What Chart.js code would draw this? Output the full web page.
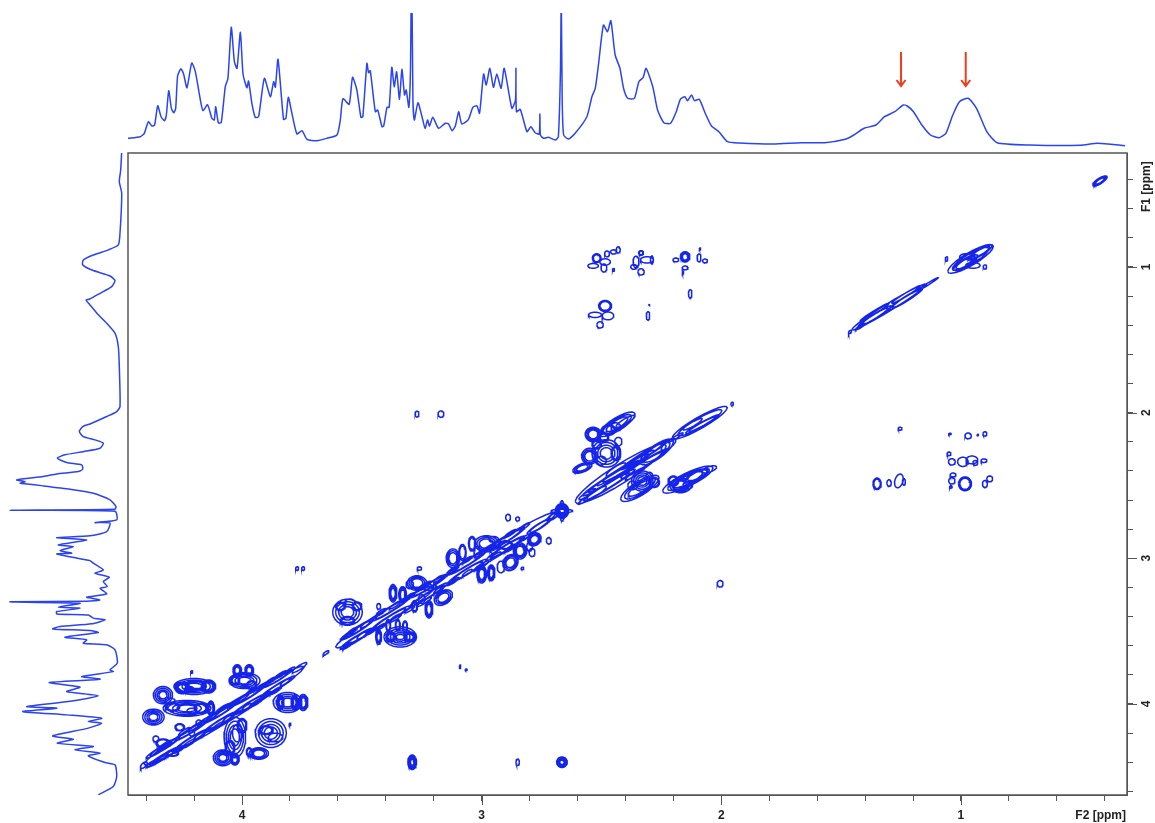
<!DOCTYPE html>
<html>
<head>
<meta charset="utf-8">
<title>COSY spectrum</title>
<script src="https://cdn.jsdelivr.net/npm/chart.js@4"></script>
<style>
  html, body { margin: 0; padding: 0; background: #fff; overflow: hidden; }
  canvas { position: absolute; display: block; }
  #mainChart { left: 0; top: 0; }
  #topChart { left: 128px; top: 13px; }
  #leftChart { left: 0; top: 153px; }
</style>
</head>
<body>
<canvas id="mainChart" width="1155" height="823"></canvas>
<canvas id="topChart" width="999" height="135"></canvas>
<canvas id="leftChart" width="128" height="642"></canvas>
<script>
// 1D projection along the top (F2 ppm, intensity)
const topF2 = [4.477,4.425,4.408,4.391,4.376,4.365,4.352,4.338,4.324,4.316,4.306,4.295,4.285,4.277,4.269,4.255,4.244,4.230,4.210,4.195,4.174,4.163,4.144,4.126,4.116,4.110,4.099,4.087,4.070,4.059,4.045,4.032,4.021,4.007,3.996,3.980,3.973,3.959,3.945,3.931,3.907,3.882,3.868,3.861,3.850,3.827,3.817,3.807,3.792,3.771,3.750,3.729,3.688,3.646,3.604,3.590,3.579,3.553,3.539,3.521,3.504,3.496,3.479,3.472,3.465,3.444,3.434,3.416,3.409,3.395,3.386,3.375,3.365,3.355,3.343,3.333,3.322,3.315,3.304,3.297,3.294,3.291,3.287,3.281,3.266,3.249,3.236,3.226,3.218,3.204,3.180,3.152,3.138,3.124,3.110,3.096,3.083,3.055,3.037,3.020,3.009,2.992,2.981,2.966,2.951,2.937,2.919,2.906,2.874,2.859,2.857,2.855,2.839,2.811,2.795,2.777,2.760,2.757,2.755,2.742,2.721,2.693,2.680,2.671,2.668,2.664,2.658,2.638,2.610,2.561,2.540,2.526,2.512,2.492,2.475,2.461,2.443,2.423,2.408,2.391,2.363,2.344,2.326,2.314,2.286,2.266,2.240,2.212,2.188,2.171,2.152,2.141,2.124,2.112,2.092,2.067,2.041,2.010,1.974,1.924,1.782,1.668,1.568,1.483,1.447,1.404,1.355,1.319,1.276,1.241,1.224,1.198,1.163,1.127,1.091,1.063,1.034,1.006,0.970,0.935,0.892,0.849,0.714,0.500,0.429,0.315];
const topIntensity = [4.7,6.3,9.7,21.3,17,18,37.3,26.3,22.3,28,52.3,34.7,30.3,34.7,67,74.3,69,55.3,80,71.3,43,32.3,38.3,24.7,23,36.3,20.3,20.3,56.3,64.7,115.7,81.3,74.7,110.7,69,55.3,62,39.7,25.7,26.3,64.7,46.3,61.3,55.7,83.7,23.7,24.7,45.7,29.7,9,12.3,3.7,2.3,4.7,8,23,44.3,38.7,65.7,53,25.7,26.3,79.7,70.3,72.3,31.3,33,16.3,17,35.7,35.7,75.7,56.3,71.3,43.7,73.7,48,53,35.7,74.7,150,150,43,23,40.3,26.3,14.7,23,17,25.7,14.7,19.7,19,12.3,17,31.3,19,23.7,35.7,37.3,29.7,69,58,74.7,55.7,69,54.7,74.7,34.7,43,74.7,31.3,33.7,11.3,16.3,10.3,9,29,8,4.7,5.7,3,6.3,76,150,43,8,4,9.7,26.3,46.3,54.7,79.7,118,111.3,122.3,88,74.7,54.7,44.7,44.7,61.3,65.7,74.7,56.3,33,20.3,19.7,31.3,43.7,46.3,42.3,48,42.3,43.7,29.7,17,11.3,1.3,0,-1,0.3,0.3,3.7,8,14.7,18,26.3,31.3,38,37,31.3,18,8,5.3,9.7,28,41.3,44.7,34.7,11.3,0.3,-2,-2.3,-0.3,-2.7];

// 1D projection down the left side (F1 ppm, intensity)
const leftF1 = [0.208,0.334,0.414,0.494,0.769,0.849,0.883,0.918,0.952,0.986,1.025,1.062,1.094,1.135,1.181,1.222,1.227,1.261,1.329,1.387,1.455,1.547,1.684,1.959,1.993,2.027,2.078,2.096,2.130,2.165,2.187,2.210,2.245,2.268,2.290,2.313,2.343,2.359,2.389,2.405,2.421,2.439,2.462,2.474,2.485,2.489,2.503,2.526,2.554,2.599,2.645,2.663,2.670,2.677,2.737,2.755,2.759,2.817,2.846,2.858,2.874,2.908,2.920,2.947,2.965,2.970,2.990,3.016,3.034,3.080,3.103,3.130,3.160,3.194,3.206,3.244,3.267,3.286,3.295,3.299,3.309,3.336,3.343,3.366,3.382,3.389,3.411,3.423,3.450,3.469,3.485,3.496,3.510,3.542,3.560,3.583,3.594,3.629,3.720,3.766,3.778,3.812,3.830,3.853,3.885,3.915,3.944,3.983,4.018,4.029,4.052,4.075,4.098,4.121,4.132,4.166,4.219,4.242,4.269,4.292,4.315,4.338,4.356,4.402,4.418,4.498,4.567,4.624];
const leftIntensity = [-1.7,-0.7,0.7,-1.7,0,1.7,11.7,26.7,36.7,37.3,26.7,10,5,8.3,20,30.7,34,30,21.7,13.3,5,1.7,0.7,0,3.3,13.3,30,37.3,40.7,36.7,25,16.7,20,36.7,55,62.7,53.3,38.3,37.3,41.7,63.3,76.7,103.3,95,100,95,76.7,50,26.7,10,4,5,110,5,3.3,25,10,13.3,30,63.3,33.3,61.7,46.7,60,48.3,63.3,50,30,26.7,16.7,25,10.7,16.7,12.7,20,13.3,33.3,20,33,110,40,61.7,40,63.3,63.3,31.7,26.7,15,28.3,60,67.3,30,21.7,55,33.3,36.7,13.3,5,2.7,10,6.7,38.3,20,70.7,40,53.3,21.7,51.7,93.3,63.3,97.3,53.3,18.3,31.7,18.3,31.7,67.3,46.7,62.7,26.7,45,20,31.7,15,5,3.3,6.7,21.7];

// tick positions and where the red arrows point
const f2Ticks = [4.4,4.2,4,3.8,3.6,3.4,3.2,3,2.8,2.6,2.4,2.2,2,1.8,1.6,1.4,1.2,1,0.8,0.6,0.4];
const f1Ticks = [0.4,0.6,0.8,1,1.2,1.4,1.6,1.8,2,2.2,2.4,2.6,2.8,3,3.2,3.4,3.6,3.8,4,4.2,4.4,4.6];
const arrowF2 = [1.25, 0.98];

// contours: [F2 centre, F1 centre, half width F2, half width F1, skew, number of levels]
const diagonalLow = [
  [4.075,4.08,.335,.06,1,1],[4.41,4.42,.014,.018,1,1],
  [4.33,4.365,.07,.018,1,2],[4.33,4.30,.07,.018,1,2],[4.21,4.245,.07,.02,1,2],[4.21,4.18,.07,.018,1,2],
  [4.09,4.125,.07,.02,1,2],[4.09,4.06,.07,.018,1,2],[3.97,4.005,.07,.02,1,2],[3.97,3.94,.07,.018,1,2],
  [3.85,3.88,.07,.018,1,2],[3.85,3.825,.06,.016,1,2],[3.76,3.75,.03,.016,1,1],
  [4.38,4.41,.02,.012,1,1],[4.34,4.38,.025,.012,1,1],[4.30,4.34,.02,.014,1,1],[4.26,4.31,.025,.012,1,1],[4.22,4.27,.03,.014,1,1],[4.18,4.22,.022,.012,1,1],[4.14,4.19,.025,.014,1,1],[4.10,4.15,.03,.012,1,1],[4.06,4.10,.02,.012,1,1],[4.02,4.07,.028,.014,1,1],[3.98,4.02,.02,.012,1,1],[3.94,3.99,.03,.013,1,1],[3.90,3.94,.022,.012,1,1],[3.86,3.91,.025,.012,1,1],[3.82,3.85,.02,.012,1,1],
  [4.36,4.33,.02,.012,1,1],[4.32,4.28,.028,.014,1,1],[4.28,4.25,.02,.012,1,1],[4.24,4.19,.025,.014,1,1],[4.20,4.16,.03,.012,1,1],[4.16,4.12,.02,.014,1,1],[4.12,4.08,.025,.012,1,1],[4.08,4.03,.03,.014,1,1],[4.04,4.00,.02,.012,1,1],[4.00,3.96,.028,.013,1,1],[3.96,3.91,.02,.012,1,1],[3.92,3.88,.03,.012,1,1],[3.88,3.84,.022,.012,1,1],[3.84,3.80,.025,.012,1,1],[3.80,3.77,.02,.012,1,1]
];
const crossLow = [
  [4.20,3.88,.085,.055,0,4],[4.14,3.88,.03,.045,0,3],[4.25,3.89,.03,.04,0,3],[4.19,3.87,.04,.03,0,2],[4.22,3.90,.02,.02,0,1],
  [4.33,3.94,.04,.06,0,4],[4.30,3.98,.02,.02,0,1],[4.23,4.03,.10,.055,0,4],[4.29,4.02,.03,.03,0,2],[4.17,4.03,.03,.035,0,2],[4.13,4.03,.015,.05,0,3],[4.21,4.05,.02,.02,0,1],
  [4.37,4.09,.045,.055,0,4],[4.02,3.77,.018,.04,0,3],[3.97,3.77,.018,.04,0,3],[3.99,3.84,.065,.055,0,4],[3.96,3.87,.02,.03,0,2],[4.03,3.84,.02,.03,0,2],
  [3.81,3.99,.06,.07,0,4],[3.84,3.99,.015,.05,0,3],[3.78,3.99,.015,.05,0,3],[3.745,3.99,.02,.055,0,3],
  [3.88,4.20,.065,.10,0,4],[3.90,4.18,.03,.03,0,2],[3.86,4.23,.03,.03,0,1],[4.03,4.23,.045,.14,0,4],[4.05,4.30,.02,.05,0,2],[4.00,4.15,.02,.05,0,2],[4.02,4.20,.02,.06,0,1],
  [4.08,4.37,.04,.055,0,4],[4.03,4.38,.018,.04,0,3],[3.93,4.34,.04,.04,0,3],[3.97,4.33,.012,.03,0,2],
  [4.33,4.27,.03,.03,0,2],[4.26,4.16,.02,.025,0,2],[4.29,4.34,.025,.02,0,2],[4.18,4.13,.012,.02,0,1],[4.36,4.24,.012,.02,0,1],[4.21,4.20,.012,.02,0,1],
  [4.21,3.78,.004,.008,0,1],[3.80,4.14,.004,.008,0,1]
];
const diagonalMid = [
  [3.65,3.65,.012,.01,1,1],[3.40,3.40,.21,.05,1,1],[2.95,2.95,.26,.055,1,1],
  [3.52,3.55,.07,.02,1,2],[3.52,3.49,.07,.02,1,2],[3.38,3.41,.08,.02,1,2],[3.38,3.35,.08,.02,1,2],
  [3.22,3.25,.08,.02,1,2],[3.22,3.19,.08,.02,1,2],[3.06,3.09,.08,.022,1,2],[3.06,3.03,.08,.022,1,2],
  [2.90,2.93,.08,.022,1,2],[2.90,2.87,.08,.022,1,2],[2.76,2.78,.05,.02,1,2],[2.70,2.71,.028,.02,1,2],
  [3.56,3.60,.02,.012,1,1],[3.50,3.53,.02,.014,1,1],[3.46,3.50,.025,.012,1,1],[3.42,3.47,.02,.012,1,1],[3.36,3.41,.025,.014,1,1],[3.30,3.35,.02,.012,1,1],[3.24,3.30,.03,.012,1,1],[3.18,3.22,.02,.014,1,1],[3.12,3.16,.025,.012,1,1],[3.06,3.10,.02,.012,1,1],[3.00,3.05,.03,.014,1,1],[2.94,2.98,.02,.012,1,1],[2.88,2.93,.025,.014,1,1],[2.82,2.86,.02,.012,1,1],
  [3.54,3.50,.02,.014,1,1],[3.48,3.45,.025,.012,1,1],[3.42,3.37,.02,.014,1,1],[3.36,3.32,.025,.012,1,1],[3.30,3.26,.02,.012,1,1],[3.24,3.19,.03,.014,1,1],[3.18,3.14,.02,.012,1,1],[3.12,3.08,.025,.014,1,1],[3.06,3.01,.02,.012,1,1],[3.00,2.96,.03,.012,1,1],[2.94,2.90,.02,.014,1,1],[2.88,2.83,.025,.012,1,1],[2.82,2.78,.02,.012,1,1],
  [2.665,2.675,.028,.05,0,4],[2.665,2.675,.045,.012,0,1],[2.665,2.675,.01,.07,0,1]
];
const crossMid = [
  [3.56,3.37,.062,.09,0,4],[3.59,3.33,.02,.03,0,2],[3.52,3.33,.02,.03,0,2],[3.56,3.43,.03,.03,0,2],[3.55,3.30,.02,.02,0,1],
  [3.34,3.54,.068,.07,0,5],[3.30,3.54,.025,.035,0,3],[3.38,3.54,.02,.035,0,3],[3.43,3.54,.012,.05,0,3],
  [3.39,3.46,.01,.04,0,2],[3.35,3.46,.01,.04,0,2],[3.32,3.47,.01,.04,0,2],
  [3.37,3.24,.016,.06,0,3],[3.33,3.25,.016,.055,0,3],[3.27,3.17,.04,.05,0,3],[3.22,3.20,.02,.02,0,1],[3.30,3.18,.015,.03,0,1],
  [3.22,3.35,.016,.06,0,3],[3.28,3.33,.012,.04,0,2],[3.25,3.28,.014,.03,0,1],[3.16,3.27,.038,.05,.5,3],
  [3.12,3.00,.028,.065,0,3],[3.08,2.96,.015,.055,0,2],[3.04,2.90,.015,.05,0,2],[2.98,2.90,.05,.055,0,3],[2.95,2.87,.02,.02,0,1],[2.90,2.91,.03,.03,0,2],[3.02,2.96,.012,.04,0,1],[2.95,2.94,.015,.03,0,1],
  [3.00,3.11,.02,.06,0,3],[2.96,3.10,.015,.055,0,3],[2.88,3.03,.032,.055,.3,3],[2.84,2.95,.028,.055,0,3],[2.78,2.87,.028,.045,.3,3],[2.80,2.92,.012,.03,0,1],[2.92,3.06,.015,.04,0,1],
  [2.89,2.72,.01,.022,0,1],[2.85,2.73,.008,.014,0,1],[2.72,2.88,.01,.022,0,1],[2.79,2.96,.012,.028,0,1],[2.83,3.07,.006,.008,0,1],[3.26,3.07,.009,.012,0,1],[3.43,3.33,.008,.02,0,1]
];
const diagonalHigh = [
  [2.42,2.42,.19,.075,1,1],[2.48,2.51,.12,.022,1,2],[2.46,2.45,.12,.025,1,2],[2.40,2.38,.12,.022,1,2],[2.32,2.35,.1,.025,1,2],[2.32,2.29,.1,.022,1,2],
  [2.52,2.55,.04,.02,1,1],[2.56,2.56,.035,.015,1,1],[2.36,2.42,.04,.015,1,1],[2.44,2.39,.04,.02,1,1],
  [2.27,2.27,.07,.055,1,2],[2.22,2.22,.03,.03,1,1],[2.09,2.07,.115,.045,.9,2],[2.08,2.08,.07,.016,.9,2],[2.12,2.08,.04,.016,.9,1],[2.19,2.17,.03,.01,1,1],[1.955,1.94,.005,.012,0,1]
];
const crossHigh = [
  [2.435,2.08,.075,.05,.9,3],[2.40,2.06,.04,.02,.9,1],[2.47,2.12,.03,.035,0,2],[2.44,2.10,.02,.03,0,1],[2.535,2.15,.033,.05,0,3],[2.49,2.17,.02,.03,0,2],
  [2.48,2.28,.06,.095,0,4],[2.52,2.22,.02,.03,0,2],[2.44,2.28,.02,.05,0,2],[2.50,2.33,.02,.03,0,1],[2.43,2.20,.015,.03,0,1],[2.55,2.30,.033,.055,0,3],[2.58,2.38,.04,.03,.5,3],
  [2.34,2.52,.08,.055,.9,3],[2.33,2.47,.045,.07,0,4],[2.28,2.48,.022,.035,0,2],[2.37,2.50,.02,.03,0,1],[2.30,2.44,.015,.03,0,1],
  [2.14,2.46,.105,.05,.75,3],[2.17,2.50,.045,.05,0,3],[2.10,2.43,.05,.03,.7,2],[2.20,2.47,.022,.035,0,2],[2.05,2.39,.03,.02,.5,1],[2.14,2.50,.02,.025,0,1]
];
const crossUpper = [
  [2.52,.94,.018,.03,0,2],[2.485,.966,.022,.022,0,1],[2.49,1.007,.012,.028,0,1],[2.477,.91,.01,.02,0,1],[2.45,.897,.012,.015,0,1],[2.43,.883,.008,.022,0,1],[2.535,.993,.022,.016,0,1],[2.45,1.02,.004,.01,0,1],
  [2.356,.966,.012,.04,0,1],[2.31,.952,.027,.022,0,1],[2.335,.904,.01,.016,0,2],[2.365,1.0,.013,.016,0,1],[2.335,1.034,.013,.022,0,1],[2.29,.952,.006,.027,0,1],
  [2.151,.931,.02,.035,0,3],[2.19,.952,.012,.013,0,1],[2.151,1.007,.012,.013,0,1],[2.093,.938,.008,.027,0,1],[2.068,.959,.01,.013,0,1],[2.089,.876,.003,.006,0,1],[2.16,1.04,.003,.008,0,1],[2.13,1.185,.007,.029,0,1],
  [2.485,1.268,.027,.038,0,2],[2.527,1.329,.027,.018,0,1],[2.473,1.336,.024,.027,0,1],[2.506,1.398,.013,.022,0,1],[2.306,1.336,.007,.029,0,1],[2.30,1.26,.002,.005,0,1]
];
const diagonalMethyl = [
  [1.30,1.275,.155,.03,1,1],[1.36,1.34,.07,.02,1,2],[1.36,1.31,.06,.012,1,1],[1.23,1.22,.07,.02,1,2],[1.23,1.19,.06,.012,1,1],[1.42,1.41,.02,.01,1,1],[1.463,1.446,.006,.01,1,1],[1.14,1.12,.045,.008,1,1],
  [.96,.945,.095,.05,.9,2],[.98,.97,.05,.03,.9,2],[.92,.90,.05,.025,.9,2],[.98,.93,.025,.02,0,1],[.95,.99,.03,.02,0,1],[.93,.94,.03,.012,.9,1],[1.06,.945,.005,.014,0,1],[.90,1.0,.007,.014,0,1]
];
const crossMethyl = [
  [1.254,2.11,.008,.01,0,1],[1.046,2.146,.005,.004,0,1],[.97,2.16,.013,.02,0,1],[.93,2.153,.003,.004,0,1],[.90,2.146,.008,.015,0,1],
  [1.05,2.283,.008,.012,0,1],[1.038,2.338,.014,.022,0,1],[.992,2.338,.022,.032,0,1],[.954,2.325,.024,.027,0,1],[.94,2.345,.01,.016,0,1],[.904,2.33,.012,.012,0,1],
  [1.35,2.489,.017,.04,0,2],[1.30,2.483,.009,.022,0,1],[1.259,2.469,.018,.045,.8,1],[1.238,2.476,.006,.022,0,1],
  [1.033,2.428,.012,.013,0,1],[1.038,2.469,.013,.022,0,1],[1.042,2.51,.005,.008,0,1],[.983,2.489,.027,.048,0,2],[.90,2.49,.01,.024,0,1],[.88,2.455,.012,.02,0,1]
];
const isolated = [
  [.42,.41,.03,.022,.9,3],[3.27,2.01,.008,.02,0,1],[3.17,2.01,.012,.022,0,1],[3.77,3.07,.006,.012,0,1],[3.745,3.07,.006,.012,0,1],
  [3.09,3.745,.003,.012,0,1],[3.065,3.765,.004,.005,0,1],[2.005,3.175,.012,.022,0,1],[3.29,4.40,.018,.05,0,4],[2.85,4.40,.007,.022,0,1],[2.665,4.40,.022,.037,0,4]
];
const contourGroups = [diagonalLow, crossLow, diagonalMid, crossMid, diagonalHigh, crossHigh, crossUpper, diagonalMethyl, crossMethyl, isolated];

const BLUE = '#1424ea';
const TRACE_BLUE = '#2a44f4';
const FRAME = '#555555';
const TEXT = '#222222';
const F2_RANGE = { min: 0.307, max: 4.476 };
const F1_RANGE = { min: 0.218, max: 4.625 };
const LEVEL_SCALE = [1, 0.8, 0.6, 0.42, 0.25];

// outline of one contour group, rings split by gaps
function contourOutline(group) {
  const pts = [];
  group.forEach(([f2, f1, rx, ry, skew, levels]) => {
    for (let lv = 0; lv < levels; lv++) {
      const s = LEVEL_SCALE[lv];
      for (let k = 0; k <= 22; k++) {
        const t = k / 22 * Math.PI * 2;
        pts.push({
          x: f2 + s * rx * Math.cos(t),
          y: f1 + s * (skew * rx * Math.cos(t) + ry * Math.sin(t))
        });
      }
      pts.push({ x: NaN, y: NaN });
    }
  });
  return pts;
}

const framePlugin = {
  id: 'frame',
  afterDraw(chart) {
    const { ctx, chartArea: a, scales } = chart;
    ctx.save();
    ctx.strokeStyle = FRAME;
    ctx.lineWidth = 1.5;
    ctx.strokeRect(a.left, a.top, a.right - a.left, a.bottom - a.top);
    // labelled ticks are longer
    ctx.lineWidth = 1;
    ctx.beginPath();
    f2Ticks.filter(Number.isInteger).forEach(v => {
      const x = Math.round(scales.x.getPixelForValue(v)) + 0.5;
      ctx.moveTo(x, a.bottom);
      ctx.lineTo(x, a.bottom + 10);
    });
    f1Ticks.filter(Number.isInteger).forEach(v => {
      const y = Math.round(scales.y.getPixelForValue(v)) + 0.5;
      ctx.moveTo(a.right, y);
      ctx.lineTo(a.right + 10, y);
    });
    ctx.stroke();
    // axis names
    ctx.fillStyle = TEXT;
    ctx.font = 'bold 12px "Liberation Sans", Arial, sans-serif';
    ctx.textAlign = 'right';
    ctx.textBaseline = 'middle';
    ctx.fillText('F2 [ppm]', 1126, 816);
    ctx.translate(1147, 155);
    ctx.rotate(-Math.PI / 2);
    ctx.textAlign = 'left';
    ctx.fillText('F1 [ppm]', -57, 0);
    ctx.restore();
  }
};

const arrowPlugin = {
  id: 'arrows',
  afterDraw(chart) {
    const { ctx, scales } = chart;
    ctx.save();
    ctx.strokeStyle = '#f23c1c';
    ctx.lineWidth = 2;
    arrowF2.forEach(v => {
      const x = scales.x.getPixelForValue(v);
      const y0 = scales.y.getPixelForValue(91);
      const y1 = scales.y.getPixelForValue(57);
      ctx.beginPath();
      ctx.moveTo(x, y0);
      ctx.lineTo(x, y1);
      ctx.moveTo(x - 4.5, y1 - 6);
      ctx.lineTo(x, y1);
      ctx.lineTo(x + 4.5, y1 - 6);
      ctx.stroke();
    });
    ctx.restore();
  }
};

const baseOptions = {
  responsive: false,
  animation: false,
  plugins: { legend: { display: false }, title: { display: false }, tooltip: { enabled: false } }
};

// the 2D map with its ticks
new Chart(document.getElementById('mainChart'), {
  type: 'scatter',
  data: {
    datasets: contourGroups.map(group => ({
      data: contourOutline(group),
      showLine: true,
      spanGaps: false,
      borderColor: BLUE,
      borderWidth: 1.5,
      pointRadius: 0,
      tension: 0
    }))
  },
  options: {
    ...baseOptions,
    layout: { padding: { left: 128, top: 153, right: 0, bottom: 0 } },
    scales: {
      x: {
        type: 'linear',
        position: 'bottom',
        reverse: true,
        min: F2_RANGE.min,
        max: F2_RANGE.max,
        afterFit: s => { s.height = 28; },
        afterBuildTicks: s => { s.ticks = f2Ticks.map(value => ({ value })); },
        grid: { drawOnChartArea: false, tickLength: 6, tickColor: FRAME },
        border: { color: FRAME },
        ticks: {
          autoSkip: false,
          maxRotation: 0,
          padding: 7,
          color: TEXT,
          font: { family: '"Liberation Sans", Arial, sans-serif', size: 12, weight: 'bold' },
          callback: v => Number.isInteger(v) ? String(v) : ''
        }
      },
      y: {
        type: 'linear',
        position: 'right',
        reverse: true,
        min: F1_RANGE.min,
        max: F1_RANGE.max,
        afterFit: s => { s.width = 28; },
        afterBuildTicks: s => { s.ticks = f1Ticks.map(value => ({ value })); },
        grid: { drawOnChartArea: false, tickLength: 6, tickColor: FRAME },
        border: { color: FRAME },
        ticks: {
          autoSkip: false,
          minRotation: 90,
          maxRotation: 90,
          padding: 10,
          crossAlign: 'center',
          color: TEXT,
          font: { family: '"Liberation Sans", Arial, sans-serif', size: 12, weight: 'bold' },
          callback: v => Number.isInteger(v) ? String(v) : ''
        }
      }
    }
  },
  plugins: [framePlugin]
});

// projection above the map
new Chart(document.getElementById('topChart'), {
  type: 'scatter',
  data: {
    datasets: [{
      data: topF2.map((x, i) => ({ x, y: topIntensity[i] })),
      showLine: true,
      borderColor: TRACE_BLUE,
      borderWidth: 1.5,
      pointRadius: 0,
      tension: 0.2
    }]
  },
  options: {
    ...baseOptions,
    scales: {
      x: { type: 'linear', display: false, reverse: true, min: F2_RANGE.min, max: F2_RANGE.max },
      y: { type: 'linear', display: false, min: -5, max: 130 }
    }
  },
  plugins: [arrowPlugin]
});

// projection left of the map
new Chart(document.getElementById('leftChart'), {
  type: 'scatter',
  data: {
    datasets: [{
      data: leftF1.map((y, i) => ({ x: leftIntensity[i], y })),
      showLine: true,
      borderColor: TRACE_BLUE,
      borderWidth: 1.5,
      pointRadius: 0,
      tension: 0.2
    }]
  },
  options: {
    ...baseOptions,
    scales: {
      x: { type: 'linear', display: false, reverse: true, min: -8, max: 120 },
      y: { type: 'linear', display: false, reverse: true, min: F1_RANGE.min, max: F1_RANGE.max }
    }
  }
});
</script>
</body>
</html>
